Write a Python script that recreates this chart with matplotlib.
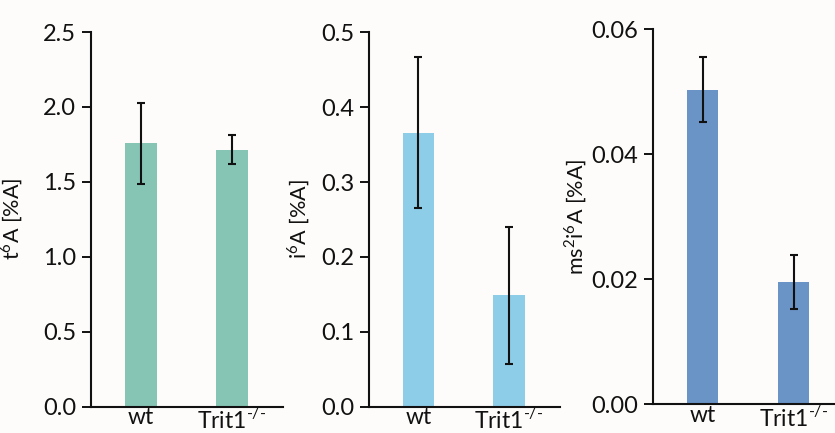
import matplotlib
matplotlib.use("Agg")
import matplotlib.pyplot as plt

plt.rcParams['font.family'] = ['Lato', 'DejaVu Sans']
plt.rcParams['mathtext.fontset'] = 'custom'
plt.rcParams['mathtext.rm'] = 'Lato'

groups = ["wt", r"Trit1$^{\text{-/-}}$"]

t6a_mean = [1.757, 1.715]
t6a_err = [0.27, 0.097]

i6a_mean = [0.366, 0.149]
i6a_err = [0.101, 0.0915]

ms2i6a_mean = [0.0503, 0.0196]
ms2i6a_err = [0.0052, 0.0043]

ylabels = [r"t$^{\mathregular{6}}$A [%A]", r"i$^{\mathregular{6}}$A [%A]",
           r"ms$^{\mathregular{2}}$i$^{\mathregular{6}}$A [%A]"]
colors = ["#86c5b4", "#8ecde8", "#6a93c6"]
yticks = [[0.0, 0.5, 1.0, 1.5, 2.0, 2.5],
          [0.0, 0.1, 0.2, 0.3, 0.4, 0.5],
          [0.00, 0.02, 0.04, 0.06]]
yfmt = ["{:.1f}", "{:.1f}", "{:.2f}"]

W, H = 835, 433
fig = plt.figure(figsize=(W / 100, H / 100), dpi=100, facecolor="#fdfcfa")

# panel rectangles in pixel units: left, right, y of zero, y of top
boxes = [(90.7, 283, 406.7, 32.0),
         (369.3, 560, 406.7, 32.3),
         (652.7, 835, 404.3, 29.3)]
xlims = [(-0.553, 1.560), (-0.540, 1.562), (-0.551, 1.453)]
widths = [0.348, 0.347, 0.34]
labelx = [25, 312, 589]

data = [(t6a_mean, t6a_err), (i6a_mean, i6a_err), (ms2i6a_mean, ms2i6a_err)]

for i, (mean, err) in enumerate(data):
    l, r, y0, yt = boxes[i]
    ax = fig.add_axes([l / W, (H - y0) / H, (r - l) / W, (y0 - yt) / H])
    ax.set_facecolor("none")
    x = [0, 1]
    ax.bar(x, mean, width=widths[i], color=colors[i], zorder=1)
    ax.errorbar(x, mean, yerr=err, fmt="none", ecolor="#111111",
                elinewidth=1.5, capsize=3.0, capthick=1.5, zorder=2)
    ax.set_xlim(*xlims[i])
    ax.set_ylim(yticks[i][0], yticks[i][-1])
    ax.set_yticks(yticks[i])
    ax.set_yticklabels([yfmt[i].format(v) for v in yticks[i]])
    ax.set_xticks(x)
    ax.set_xticklabels(groups)
    ax.tick_params(axis="y", length=6.5, width=1.4, pad=4, labelsize=17,
                   colors="#111111")
    ax.tick_params(axis="x", length=0, pad=0.5, labelsize=16.5,
                   colors="#111111")
    for s in ("top", "right"):
        ax.spines[s].set_visible(False)
    for s in ("left", "bottom"):
        ax.spines[s].set_linewidth(1.5)
        ax.spines[s].set_color("#111111")
    ax.set_ylabel(ylabels[i], fontsize=15.5, color="#111111")
    ax.yaxis.set_label_coords((labelx[i] - l) / (r - l), 0.5)

fig.savefig("out.png", dpi=100, facecolor=fig.get_facecolor())
